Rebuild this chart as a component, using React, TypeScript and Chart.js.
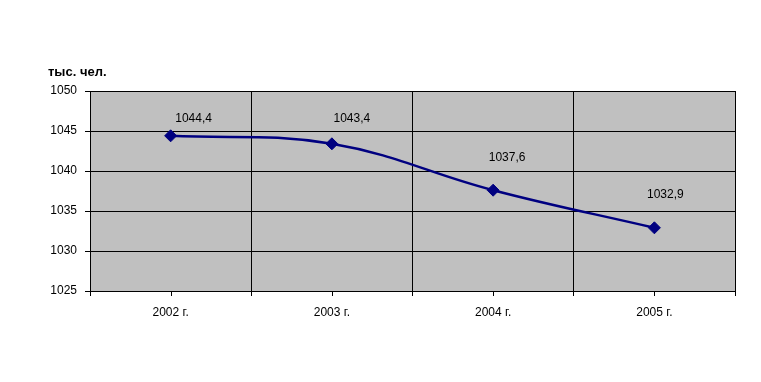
import React, { useEffect, useRef } from "react";
import { Chart, registerables } from "chart.js";

Chart.register(...registerables);

const categories = ["2002 г.", "2003 г.", "2004 г.", "2005 г."];
const population = [1044.4, 1043.4, 1037.6, 1032.9];
const valueLabels = ["1044,4", "1043,4", "1037,6", "1032,9"];
const labelOffsets = [
  [23, -17],
  [20, -25],
  [14, -33],
  [11, -33],
];
const unitTitle = "тыс. чел.";

const FONT = "Arial, 'Liberation Sans', sans-serif";

const decorPlugin = {
  id: "decor",
  beforeDraw(chart: any) {
    const { ctx, chartArea } = chart;
    ctx.save();
    ctx.fillStyle = "#C0C0C0";
    ctx.fillRect(chartArea.left, chartArea.top, chartArea.right - chartArea.left, chartArea.bottom - chartArea.top);
    ctx.restore();
  },
  afterDraw(chart: any) {
    const { ctx, chartArea } = chart;
    const xs = chart.scales.x;
    ctx.save();
    ctx.strokeStyle = "#000";
    ctx.lineWidth = 1;
    for (let i = 0; i < categories.length; i++) {
      const px = Math.round(xs.getPixelForValue(i)) + 0.5;
      ctx.beginPath();
      ctx.moveTo(px, chartArea.bottom);
      ctx.lineTo(px, chartArea.bottom + 5);
      ctx.stroke();
    }
    ctx.fillStyle = "#000";
    ctx.font = "bold 13px " + FONT;
    ctx.textAlign = "left";
    ctx.textBaseline = "alphabetic";
    ctx.fillText(unitTitle, chartArea.left - 42, chartArea.top - 15);
    const meta = chart.getDatasetMeta(0);
    ctx.font = "12px " + FONT;
    ctx.textAlign = "center";
    ctx.textBaseline = "middle";
    meta.data.forEach((pt: any, i: number) => {
      const [dx, dy] = labelOffsets[i];
      ctx.fillText(valueLabels[i], pt.x + dx, pt.y + dy);
    });
    ctx.restore();
  },
};

export default function App() {
  const ref = useRef<HTMLCanvasElement | null>(null);
  useEffect(() => {
    document.body.style.margin = "0";
    const chart = new Chart(ref.current as HTMLCanvasElement, {
      type: "line",
      data: {
        labels: categories,
        datasets: [
          {
            data: population,
            borderColor: "#000080",
            backgroundColor: "#000080",
            borderWidth: 2.5,
            tension: 0.4,
            pointStyle: "rectRot",
            pointRadius: 6,
            pointBorderWidth: 1,
            pointBackgroundColor: "#000080",
            pointBorderColor: "#000080",
            fill: false,
          },
        ],
      },
      options: {
        responsive: false,
        animation: false,
        devicePixelRatio: 1,
        layout: { padding: { top: 91, right: 26, left: 0, bottom: 0 } },
        plugins: {
          legend: { display: false },
          tooltip: { enabled: false },
        },
        scales: {
          x: {
            offset: true,
            grid: {
              offset: true,
              color: "#000",
              lineWidth: 1,
              tickLength: 5,
              drawTicks: true,
            },
            border: { color: "#000", width: 1 },
            ticks: {
              color: "#000",
              font: { family: FONT, size: 12 },
              padding: 9,
              maxRotation: 0,
            },
            afterFit(scale: any) {
              scale.height = 382 - 291;
            },
          },
          y: {
            min: 1025,
            max: 1050,
            ticks: {
              stepSize: 5,
              color: "#000",
              font: { family: FONT, size: 12 },
              padding: 8,
              callback: (v: any) => String(v),
            },
            grid: { color: "#000", lineWidth: 1, tickLength: 5 },
            border: { color: "#000", width: 1 },
            afterFit(scale: any) {
              scale.width = 90;
            },
          },
        },
      },
      plugins: [decorPlugin],
    } as any);
    return () => chart.destroy();
  }, []);
  return (
    <div style={{ position: "absolute", left: 0, top: 0, width: 761, height: 382, background: "#fff" }}>
      <canvas ref={ref} width={761} height={382} style={{ width: 761, height: 382, display: "block" }} />
    </div>
  );
}
